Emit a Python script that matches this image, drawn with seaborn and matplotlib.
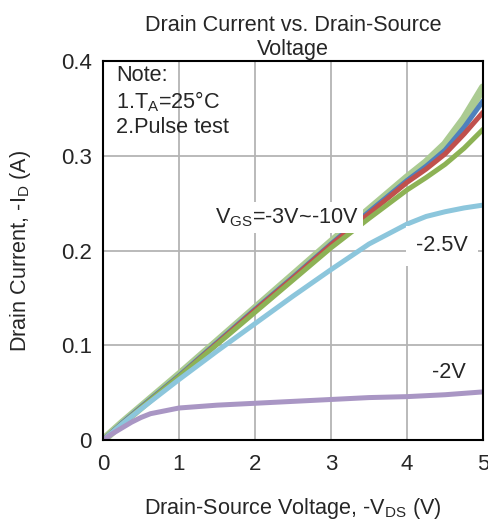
import pandas as pd
import matplotlib.pyplot as plt
import seaborn as sns

vds = [0, 0.25, 0.5, 1, 1.5, 2, 2.5, 3, 3.5, 4, 4.25, 4.5, 4.75, 5]
id_10v = [0, 0.018, 0.035, 0.069, 0.104, 0.139, 0.174, 0.209, 0.243, 0.277, 0.293, 0.312, 0.339, 0.372]
id_6v = [0, 0.018, 0.035, 0.068, 0.103, 0.138, 0.172, 0.207, 0.241, 0.274, 0.289, 0.306, 0.330, 0.358]
id_4v = [0, 0.017, 0.034, 0.067, 0.102, 0.137, 0.171, 0.206, 0.239, 0.272, 0.286, 0.302, 0.323, 0.346]
id_3v = [0, 0.017, 0.034, 0.067, 0.101, 0.135, 0.169, 0.203, 0.234, 0.264, 0.277, 0.291, 0.308, 0.328]
id_25v = [0, 0.017, 0.033, 0.064, 0.094, 0.123, 0.152, 0.180, 0.207, 0.228, 0.236, 0.241, 0.245, 0.248]
vds_2v = [0, 0.125, 0.25, 0.375, 0.5, 0.625, 0.75, 1, 1.5, 2, 2.5, 3, 3.5, 4, 4.5, 5]
id_2v = [0, 0.007, 0.013, 0.019, 0.024, 0.028, 0.030, 0.034, 0.037, 0.039, 0.041, 0.043, 0.045, 0.046, 0.048, 0.051]

sns.set_style('white')
plt.rcParams['font.family'] = ['Liberation Sans', 'DejaVu Sans']
plt.rcParams['mathtext.fontset'] = 'custom'
plt.rcParams['mathtext.rm'] = 'Liberation Sans'
fs = 15.6

fig = plt.figure(figsize=(4.88, 5.21), dpi=100)
ax = fig.add_axes([0.211, 0.155, 0.779, 0.728])

series = [
    (vds, id_10v, '#abcb92', 6),
    (vds, id_6v, '#4f81bd', 3.6),
    (vds, id_4v, '#c0504d', 3.6),
    (vds, id_3v, '#8db255', 3.6),
    (vds, id_25v, '#8cc6dc', 3.6),
    (vds_2v, id_2v, '#a996c4', 3.6),
]
for x, y, c, lw in series:
    sns.lineplot(x=x, y=y, color=c, linewidth=lw, ax=ax, zorder=3)

ax.set_xlim(0, 5)
ax.set_ylim(0, 0.4)
ax.set_xticks([0, 1, 2, 3, 4, 5])
ax.set_yticks([0, 0.1, 0.2, 0.3, 0.4])
ax.set_yticklabels(['0', '0.1', '0.2', '0.3', '0.4'])
ax.grid(True, color='#b4b4b4', linewidth=1.3)
ax.tick_params(labelsize=16, length=0)
ax.tick_params(axis='x', pad=10)
ax.tick_params(axis='y', pad=8)
for s in ax.spines.values():
    s.set_color('black')
    s.set_linewidth(1.5)
    s.set_zorder(5)

ax.set_title('Drain Current vs. Drain-Source\nVoltage', fontsize=fs, pad=4, linespacing=1.2)
ax.set_xlabel('Drain-Source Voltage, -V$_{\\mathrm{DS}}$ (V)', fontsize=fs, labelpad=15)
ax.set_ylabel('Drain Current, -I$_{\\mathrm{D}}$ (A)', fontsize=fs, labelpad=20)

ax.text(0.035, 0.99, 'Note:\n1.T$_{\\mathrm{A}}$=25°C\n2.Pulse test', transform=ax.transAxes,
        fontsize=fs, va='top', ha='left', linespacing=1.2, zorder=6)

ax.text(1.48, 0.235, 'V$_{\\mathrm{GS}}$=-3V~-10V', fontsize=fs, va='center',
        bbox=dict(facecolor='white', edgecolor='none', pad=3), zorder=6)
ax.text(4.12, 0.205, '-2.5V', fontsize=fs, va='center',
        bbox=dict(facecolor='white', edgecolor='none', pad=7), zorder=4)
ax.text(4.33, 0.071, '-2V', fontsize=fs, va='center', zorder=6)

fig.savefig('out.png', dpi=100)
